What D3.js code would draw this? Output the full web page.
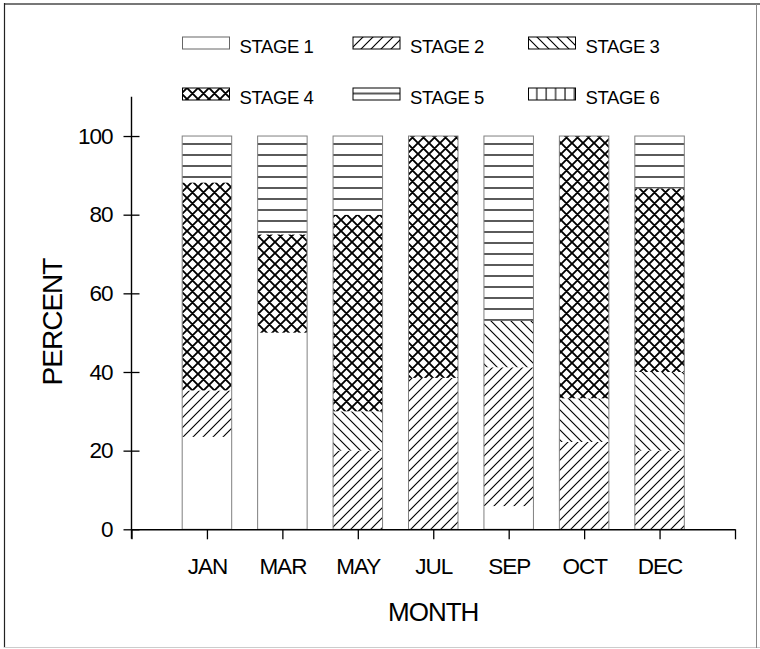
<!DOCTYPE html>
<html>
<head>
<meta charset="utf-8">
<script src="https://cdn.jsdelivr.net/npm/d3@7"></script>
<style>
  html, body { margin: 0; padding: 0; background: #fff; }
  svg { display: block; font-family: "Liberation Sans", Arial, sans-serif; }
</style>
</head>
<body>
<svg id="chart" width="760" height="649"></svg>
<script>
// Share of each developmental stage by sampling month (percent)
const months = ["JAN", "MAR", "MAY", "JUL", "SEP", "OCT", "DEC"];
const stageNames = ["STAGE 1", "STAGE 2", "STAGE 3", "STAGE 4", "STAGE 5", "STAGE 6"];
const stage1 = [23.5, 50, 0, 0, 5.9, 0, 0];
const stage2 = [11.8, 0, 20, 38.5, 35.3, 22.2, 20];
const stage3 = [0, 0, 10, 0, 11.8, 11.1, 20];
const stage4 = [52.9, 25, 50, 61.5, 0, 66.7, 46.7];
const stage5 = [11.8, 25, 20, 0, 47.0, 0, 13.3];
const stage6 = [0, 0, 0, 0, 0, 0, 0];
const yTicks = [0, 20, 40, 60, 80, 100];

const stages = [stage1, stage2, stage3, stage4, stage5, stage6];
const rows = months.map((m, i) => {
  const r = { month: m, idx: i };
  stageNames.forEach((s, k) => { r[s] = stages[k][i]; });
  return r;
});

const svg = d3.select("#chart");

// Outer frame
svg.append("line").attr("x1", 4).attr("x2", 760).attr("y1", 4).attr("y2", 4)
  .attr("stroke", "#777").attr("stroke-width", 2);
svg.append("line").attr("x1", 4.5).attr("x2", 4.5).attr("y1", 3).attr("y2", 648)
  .attr("stroke", "#222").attr("stroke-width", 1.2);
svg.append("line").attr("x1", 4).attr("x2", 760).attr("y1", 647.5).attr("y2", 647.5)
  .attr("stroke", "#ccc").attr("stroke-width", 1);
svg.append("line").attr("x1", 756.5).attr("x2", 756.5).attr("y1", 4).attr("y2", 648)
  .attr("stroke", "#888").attr("stroke-width", 1);

// Hatch patterns, one per stage
const defs = svg.append("defs");
function hatch(id, w, h, d, sw, oy) {
  const p = defs.append("pattern").attr("id", id)
    .attr("patternUnits", "userSpaceOnUse")
    .attr("x", 0).attr("y", oy || 0)
    .attr("width", w).attr("height", h);
  p.append("rect").attr("width", w).attr("height", h).attr("fill", "#fff");
  if (d) p.append("path").attr("d", d).attr("stroke", "#000")
    .attr("stroke-width", sw).attr("fill", "none");
}
function makeSet(prefix, oy5) {
  hatch(prefix + "0", 10, 10, null, 0);
  hatch(prefix + "1", 10, 10, "M-2.5,2.5 l5,-5 M0,10 l10,-10 M7.5,12.5 l5,-5", 1.15);
  hatch(prefix + "2", 10, 10, "M-2.5,7.5 l5,5 M0,0 l10,10 M7.5,-2.5 l5,5", 1.15);
  hatch(prefix + "3", 11, 11, "M0,0 L11,11 M11,0 L0,11 M-1,10 l2,2 M10,-1 l2,2 M-1,1 l2,-2 M10,12 l2,-2", 1.9);
  hatch(prefix + "4", 10, 11, "M0,1 L10,1", 1.3, oy5);
  hatch(prefix + "5", 9.4, 10, "M1,0 L1,10", 1.1);
}
makeSet("st", 0);
makeSet("lg", 4.5);

// Plot geometry
const plotLeft = 131.5, plotRight = 735, plotTop = 96.7, plotBottom = 529.3;
const x = d3.scaleLinear().domain([0, 8]).range([plotLeft, plotRight]);
const y = d3.scaleLinear().domain([0, 110]).range([plotBottom, plotTop]);
const barW = 49.5;

const stack = d3.stack().keys(stageNames);
const series = stack(rows);

const g = svg.append("g");
series.forEach((s, k) => {
  g.selectAll(null).data(s.filter(d => d[1] - d[0] > 0))
    .enter().append("rect")
    .attr("x", d => x(d.data.idx + 1) - barW / 2)
    .attr("width", barW)
    .attr("y", d => y(d[1]))
    .attr("height", d => y(d[0]) - y(d[1]))
    .attr("fill", `url(#st${k})`);
});

// Bar outlines
g.selectAll(null).data(rows).enter().append("rect")
  .attr("x", d => x(d.idx + 1) - barW / 2)
  .attr("width", barW)
  .attr("y", d => y(d3.sum(stageNames, s => d[s])))
  .attr("height", d => y(0) - y(d3.sum(stageNames, s => d[s])))
  .attr("fill", "none").attr("stroke", "#808080").attr("stroke-width", 1);

// Axes
const yAxis = d3.axisLeft(y).tickValues(yTicks).tickSize(8).tickPadding(11).tickSizeOuter(0);
const ya = svg.append("g").attr("transform", `translate(${plotLeft},0)`).call(yAxis);
ya.select(".domain").attr("d", `M0,${plotTop}V${plotBottom + 9.5}`);
ya.selectAll(".tick line").attr("x1", 8).attr("x2", -8);

const xAxis = d3.axisBottom(x).tickValues(d3.range(0, 9)).tickSize(10).tickPadding(18.5).tickSizeOuter(0)
  .tickFormat(v => (v >= 1 && v <= months.length) ? months[v - 1] : "");
const xa = svg.append("g").attr("transform", `translate(0,${plotBottom})`).call(xAxis);

[ya, xa].forEach(a => {
  a.select(".domain").attr("stroke", "#000").attr("stroke-width", 1.4);
  a.selectAll(".tick line").attr("stroke", "#000").attr("stroke-width", 1.3);
  a.selectAll("text").attr("font-size", 22.5).attr("letter-spacing", "-1px")
    .attr("fill", "#000").attr("font-family", "Liberation Sans, Arial, sans-serif");
});

// Axis titles
svg.append("text").attr("x", (plotLeft + plotRight) / 2).attr("y", 621)
  .attr("text-anchor", "middle").attr("font-size", 26).attr("letter-spacing", "-1px")
  .text("MONTH");
svg.append("text").attr("transform", "translate(61.5,322) rotate(-90)")
  .attr("text-anchor", "middle").attr("font-size", 28).attr("letter-spacing", "-1px")
  .text("PERCENT");

// Legend
const legCols = [182.5, 353, 528.5];
const legRows = [37, 88];
const lg = svg.append("g");
stageNames.forEach((s, k) => {
  const cx = legCols[k % 3], cy = legRows[Math.floor(k / 3)];
  lg.append("rect").attr("x", cx).attr("y", cy).attr("width", 47).attr("height", 12)
    .attr("fill", `url(#lg${k})`)
    .attr("stroke", k === 0 ? "#666" : "#000").attr("stroke-width", 1);
  lg.append("text").attr("x", cx + 57).attr("y", cy + 16.3)
    .attr("font-size", 18.5).attr("letter-spacing", "-0.4px").text(s);
});
</script>
</body>
</html>
